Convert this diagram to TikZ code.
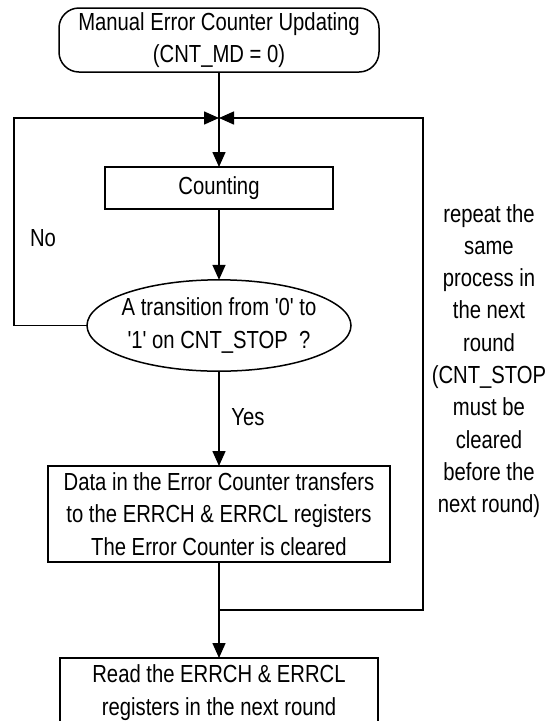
\documentclass[tikz,border=0pt]{standalone}
\usepackage{fontspec}
\setmainfont{Liberation Sans}[FakeStretch=0.82, Ligatures=TeXOff]
\usetikzlibrary{arrows.meta,shapes.geometric}
\begin{document}
\begin{tikzpicture}[x=1pt,y=-1pt,
  every node/.style={font=\fontsize{24.7}{32.3}\selectfont, inner sep=0pt, outer sep=0pt, align=center},
  shp/.style={draw, line width=1.5pt},
  boxst/.style={shp, rectangle},
  arr/.style={line width=1.5pt, -{Triangle[length=15pt,width=13pt]}},
  ln/.style={line width=1.5pt}]
\useasboundingbox (0,0) rectangle (558,721);
\fill[white] (0,0) rectangle (558,721);

\node[boxst, rounded corners=20pt, minimum width=320pt, minimum height=64pt] (start) at (219,40)
  {Manual Error Counter Updating\\(CNT\_MD = 0)};
\node[boxst, minimum width=228pt, minimum height=42pt] (count) at (219,188) {Counting};
\node[shp, ellipse, minimum width=264pt, minimum height=89pt] (dec) at (219,325.5)
  {\makebox[0pt][c]{\begin{tabular}{@{}c@{}}A transition from '0' to\\'1' on CNT\_STOP\ \ ?\end{tabular}}};
\node[boxst, minimum width=342pt, minimum height=96pt] (data) at (219,514)
  {Data in the Error Counter transfers\\to the ERRCH \& ERRCL registers\\The Error Counter is cleared};
\node[boxst, anchor=north, minimum width=318pt, minimum height=69.5pt] (read) at (219,658)
  {Read the ERRCH \& ERRCL\\registers in the next round};

\node (no) at (43,238) {No};
\node (yes) at (248,417) {Yes};
\node (rep) at (489,361) {repeat the\\same\\process in\\the next\\round\\(CNT\_STOP\\must be\\cleared\\before the\\next round)};

\coordinate (j1) at (219,118);
\coordinate (j2) at (219,610);
\coordinate (l1) at (14,325.5);
\coordinate (l2) at (14,118);
\coordinate (r1) at (423,610);
\coordinate (r2) at (423,118);

\draw[arr] (start) -- (count);
\draw[arr] (count) -- (dec);
\draw[arr] (dec) -- (data);
\draw[arr] (data) -- (read);
\draw[arr] (dec.west) -- (l1) -- (l2) -- (j1);
\draw[arr] (j2) -- (r1) -- (r2) -- (j1);
\end{tikzpicture}
\end{document}
